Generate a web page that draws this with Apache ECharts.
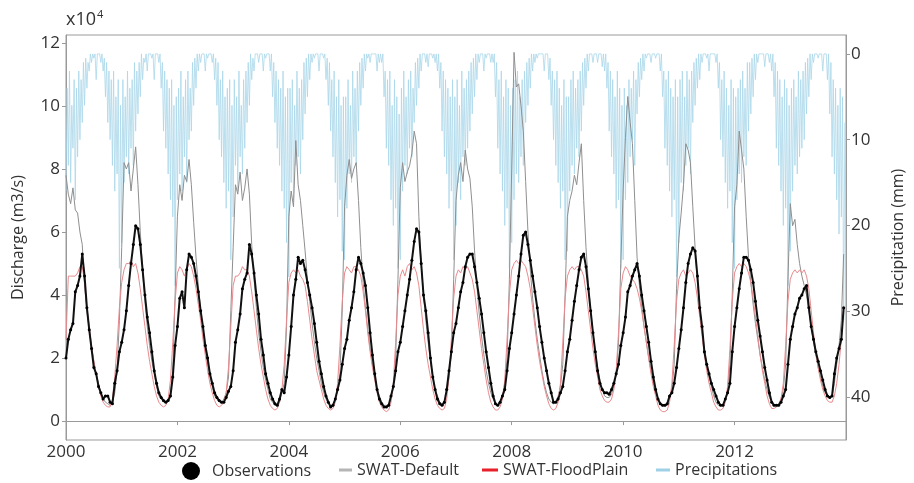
<!DOCTYPE html>
<html><head><meta charset="utf-8">
<script src="https://cdn.jsdelivr.net/npm/echarts@6/dist/echarts.min.js"></script>
<style>html,body{margin:0;padding:0;background:#fff}#c{width:914px;height:483px}</style>
</head><body><div id="c"></div>
<script>
// ---- data (discharge in 10^4 m3/s, semi-monthly; precipitation in mm, ~weekly) ----
const startYear = 2000;
const endYear = 2014;
const dischargeTicks = [0, 2, 4, 6, 8, 10, 12];
const precipTicks = [0, 10, 20, 30, 40];
const seriesNames = ['Observations', 'SWAT-Default', 'SWAT-FloodPlain', 'Precipitations'];

const observations = [
  2.0,2.6,2.9,3.1,4.1,4.3,4.6,5.3,4.6,3.6,2.9,2.3,1.7,1.5,1.1,0.9,0.7,0.8,0.8,0.6,0.55,1.2,1.6,2.2,
  2.5,2.9,3.5,4.3,5.0,5.6,6.2,6.1,5.6,4.8,4.0,3.3,2.8,2.2,1.6,1.2,0.9,0.75,0.65,0.6,0.65,0.8,1.4,2.4,
  3.0,3.9,4.1,3.6,4.8,5.3,5.2,5.0,4.6,4.1,3.5,3.0,2.4,2.0,1.5,1.2,0.9,0.75,0.65,0.6,0.6,0.75,0.95,1.1,
  1.6,2.5,2.9,3.4,4.2,4.5,4.7,5.6,5.3,4.7,4.0,3.4,2.6,2.1,1.5,1.2,0.9,0.7,0.55,0.5,0.7,1.0,0.9,1.4,
  2.1,3.0,4.0,4.5,5.2,5.0,5.1,4.8,4.4,4.0,3.6,3.1,2.5,1.9,1.5,1.1,0.8,0.6,0.45,0.5,0.7,1.0,1.3,1.8,
  2.3,2.6,3.2,3.6,4.1,4.8,5.2,5.0,4.7,4.3,3.6,2.8,2.1,1.5,1.0,0.7,0.55,0.45,0.45,0.5,0.8,1.1,1.6,2.2,
  2.5,3.0,3.5,4.0,4.5,5.1,5.7,6.1,6.0,5.0,4.0,3.5,2.8,2.0,1.4,1.0,0.7,0.55,0.5,0.6,1.0,1.6,2.2,2.8,
  3.1,3.6,4.1,4.4,4.9,5.2,5.3,5.3,4.9,4.4,3.9,3.4,2.8,2.2,1.7,1.2,0.8,0.55,0.5,0.6,0.8,1.0,1.6,2.3,
  2.8,3.4,4.0,4.6,5.3,5.9,6.0,5.6,5.1,4.6,4.1,3.6,3.0,2.5,2.0,1.6,1.2,0.9,0.6,0.6,0.7,0.9,1.1,1.6,
  2.2,2.6,3.2,3.8,4.3,4.8,5.2,5.3,4.9,4.2,3.5,2.8,2.2,1.6,1.2,1.0,0.9,0.9,0.85,1.0,1.2,1.5,1.8,2.4,
  2.8,3.3,4.1,4.3,4.6,4.8,5.0,4.6,4.0,3.5,3.0,2.5,1.9,1.4,1.0,0.7,0.55,0.5,0.5,0.55,0.8,0.9,1.2,1.7,
  2.3,2.9,3.6,4.4,5.0,5.3,5.5,5.4,4.6,3.6,3.0,2.2,1.8,1.5,1.2,1.0,0.8,0.6,0.5,0.5,0.7,0.9,1.2,2.2,
  3.0,3.6,4.2,4.7,5.2,5.2,5.1,4.8,4.4,3.8,3.2,2.7,2.2,1.7,1.3,0.9,0.6,0.5,0.5,0.5,0.6,0.8,1.0,1.8,
  2.6,3.0,3.4,3.6,3.9,4.0,4.2,4.3,3.6,3.0,2.6,2.2,1.9,1.6,1.3,1.0,0.8,0.75,0.8,1.5,2.0,2.3,2.6,3.6
];

const swatDefault = [
  7.8,7.2,6.9,7.4,6.7,6.6,6.0,5.6,4.3,3.5,2.9,2.3,1.9,1.5,1.2,0.9,0.7,0.6,0.55,0.5,0.6,0.9,1.6,3.2,
  5.5,8.2,8.0,8.2,7.3,8.0,8.7,7.5,6.0,4.8,3.8,3.0,2.4,1.9,1.5,1.1,0.8,0.7,0.6,0.6,0.7,0.9,1.6,4.0,
  6.5,7.5,7.0,7.8,7.6,8.3,7.5,6.3,5.2,4.3,3.5,2.9,2.3,1.8,1.4,1.1,0.8,0.7,0.6,0.6,0.7,0.9,1.4,3.5,
  5.5,7.5,7.2,7.9,7.0,7.4,8.0,7.2,5.6,4.5,3.6,2.8,2.2,1.7,1.3,1.0,0.7,0.6,0.5,0.5,0.6,0.9,1.2,3.0,
  6.5,7.3,6.8,8.9,7.5,7.0,6.2,5.4,4.5,3.8,3.1,2.5,2.0,1.6,1.2,0.9,0.7,0.55,0.5,0.5,0.7,1.0,1.5,3.5,
  6.8,7.8,8.3,7.7,8.0,8.2,7.0,5.5,4.4,3.6,2.9,2.3,1.8,1.4,1.0,0.8,0.6,0.5,0.5,0.5,0.7,1.1,2.0,4.5,
  7.4,8.2,7.6,7.9,8.1,8.5,9.2,8.8,6.5,5.0,4.0,3.2,2.5,1.9,1.4,1.0,0.8,0.6,0.55,0.6,0.9,1.4,2.2,4.5,
  7.0,7.8,8.2,7.6,8.6,8.0,7.7,6.8,5.4,4.3,3.4,2.7,2.1,1.6,1.2,0.9,0.7,0.55,0.5,0.6,0.8,1.2,2.0,4.5,
  8.0,11.7,10.6,10.7,10.0,9.2,7.6,6.0,4.8,3.9,3.2,2.6,2.1,1.6,1.2,0.9,0.7,0.6,0.55,0.6,0.8,1.1,1.8,4.0,
  6.5,7.0,7.3,7.8,7.5,8.2,8.8,7.0,5.5,4.4,3.5,2.8,2.2,1.7,1.3,1.0,0.8,0.75,0.75,0.85,1.1,1.5,2.5,5.0,
  7.3,9.0,10.3,9.5,8.8,7.0,5.2,4.3,3.6,3.0,2.5,2.0,1.6,1.2,0.9,0.7,0.55,0.5,0.5,0.5,0.7,1.0,1.8,4.2,
  5.8,6.6,7.5,8.8,8.6,8.2,6.8,5.5,4.4,3.6,2.9,2.3,1.8,1.4,1.1,0.8,0.6,0.5,0.5,0.5,0.7,1.0,1.8,4.0,
  6.8,7.5,9.2,8.6,8.0,6.5,5.2,4.4,3.7,3.1,2.6,2.1,1.7,1.3,1.0,0.75,0.6,0.5,0.5,0.55,0.7,1.0,1.8,4.5,
  6.9,6.2,6.4,5.6,5.0,4.6,4.3,4.0,3.5,3.0,2.5,2.1,1.7,1.4,1.1,0.9,0.8,0.75,0.8,1.2,1.8,2.4,3.2,5.3
];

const swatFloodPlain = [
  2.6,4.6,4.6,4.6,4.6,4.7,4.9,4.9,4.4,3.6,3.0,2.4,1.9,1.5,1.1,0.8,0.6,0.5,0.45,0.45,0.7,1.4,2.4,3.6,
  4.4,4.8,5.0,5.0,5.1,4.9,5.0,4.7,4.2,3.6,3.0,2.4,1.9,1.5,1.1,0.8,0.6,0.5,0.45,0.5,0.7,1.3,2.5,3.8,
  4.7,4.9,4.8,4.6,4.8,5.0,4.9,4.6,4.2,3.7,3.2,2.6,2.1,1.6,1.2,0.9,0.65,0.5,0.45,0.5,0.6,0.9,1.7,3.0,
  4.3,4.6,4.6,4.7,4.9,4.8,4.8,4.6,4.1,3.5,2.9,2.3,1.8,1.4,1.0,0.7,0.5,0.4,0.35,0.4,0.6,1.0,1.8,3.2,
  4.4,4.7,4.8,4.7,4.8,4.6,4.5,4.3,3.8,3.2,2.6,2.1,1.6,1.3,1.0,0.7,0.5,0.4,0.35,0.4,0.6,1.2,2.4,3.8,
  4.7,4.9,4.8,4.7,4.9,4.9,4.8,4.6,4.1,3.5,2.8,2.2,1.7,1.3,0.9,0.6,0.45,0.35,0.3,0.35,0.6,1.2,2.5,4.0,
  4.6,4.8,4.6,4.9,5.0,4.8,4.9,4.7,4.3,3.6,2.9,2.3,1.8,1.4,1.0,0.7,0.5,0.4,0.35,0.4,0.7,1.4,2.6,3.9,
  4.6,4.8,4.7,4.9,4.8,4.9,4.7,4.5,4.1,3.5,2.9,2.3,1.8,1.3,0.9,0.6,0.45,0.35,0.35,0.45,0.7,1.3,2.6,4.0,
  4.8,5.0,5.1,5.0,5.1,5.0,4.9,4.6,4.2,3.6,3.0,2.4,1.9,1.5,1.1,0.8,0.55,0.4,0.35,0.4,0.6,1.2,2.5,3.9,
  4.6,4.8,4.9,4.8,4.9,4.9,4.8,4.6,4.1,3.5,2.9,2.3,1.8,1.4,1.0,0.8,0.65,0.6,0.6,0.7,1.0,1.6,2.8,4.2,
  4.7,4.9,4.8,4.6,4.5,4.4,4.2,3.9,3.5,3.0,2.5,2.0,1.5,1.1,0.8,0.5,0.35,0.3,0.3,0.35,0.6,1.2,2.4,3.8,
  4.5,4.7,4.8,4.6,4.7,4.8,4.7,4.4,3.9,3.3,2.7,2.1,1.6,1.2,0.9,0.6,0.45,0.35,0.35,0.4,0.6,1.1,2.3,3.8,
  4.7,4.9,5.0,4.9,5.0,4.9,4.7,4.4,3.9,3.3,2.7,2.1,1.6,1.2,0.8,0.55,0.4,0.4,0.45,0.5,0.7,1.2,2.4,3.8,
  4.5,4.7,4.8,4.7,4.8,4.7,4.8,4.6,4.2,3.5,2.8,2.2,1.7,1.3,1.0,0.8,0.65,0.6,0.6,0.8,1.2,1.8,2.6,3.6
];

// 48 values per year (about weekly)
const precipitation = [
  16,4,13,2,15,6,11,3,17,4,12,2,10,3,8,1,6,0.5,4,1,2,0,1,0,0.5,0,3,0,0,0,1,0,2,0.5,5,1,8,2,10,3,13,2,16,5,14,3,25,6,
  22,3,15,5,12,2,14,4,11,3,13,1,9,2,7,1,5,0,3,0.5,1,0,2,0,0,0,0.5,0,3,0,0,0,1,0,4,1,9,2,11,3,14,4,17,3,19,6,27,5,
  17,4,14,2,16,5,12,3,15,2,10,4,9,1,6,0.5,4,0,2,0,1,0,0,0,2,0,0.5,0,0,0,1,0,3,0.5,6,1,10,3,12,2,15,5,18,4,16,3,24,6,
  19,3,13,5,16,2,12,6,14,3,11,2,8,1,6,0,3,0.5,2,0,0,0,1,0,0,0,2,0,0.5,0,0,0,2,0,5,1,8,2,11,3,13,4,16,2,18,5,22,4,
  26,4,15,3,17,6,13,2,12,4,14,3,10,1,7,0.5,5,0,3,0,1,0,0.5,0,0,0,2,0,0,0,0.5,0,3,0.5,6,1,9,3,12,2,15,5,19,3,17,6,23,5,
  24,5,18,3,14,6,15,2,12,4,13,2,9,1,6,0.5,4,0,2,0,0.5,0,1,0,0,0,0,0,2,0,1,0,1,0,5,2,11,3,13,2,17,6,20,3,18,5,25,7,
  24,4,16,2,13,5,14,3,11,2,12,4,8,1,6,0.5,4,0,2,0,0,0,1,0,1.5,0,0,0,0.5,0,1,0,2,0,4,1,9,2,12,3,14,4,18,5,16,3,24,5,
  20,3,15,6,17,2,12,4,13,3,11,2,9,1,7,0.5,5,0,3,0,1,0,0,0,2,0,0.5,0,0,0,1,0,1,0,5,1,11,3,14,2,16,5,20,3,18,4,25,6,
  22,4,17,3,14,2,15,5,12,3,13,2,8,1,6,0.5,4,0,2,0,1,0,0.5,0,0,0,0,0,2,0,0,0,3,0.5,6,2,10,3,13,2,15,4,18,6,16,3,24,5,
  23,5,16,3,13,2,14,4,11,3,12,2,9,1,6,0.5,4,0,2,0,0,0,1,0,0,0,1,0,0,0,1.5,0,2,0,4,1,9,2,12,3,14,5,18,2,17,4,25,6,
  24,4,17,6,15,3,12,4,10,2,13,3,7,1,5,0.5,3,0,2,0,0.5,0,0,0,1,0,0,0,0.5,0,0,0,2,0,5,2,11,3,13,2,16,4,19,5,17,3,26,5,
  22,3,15,2,16,5,13,2,11,3,14,2,8,1,6,0.5,4,0,3,0,1,0,0,0,0.5,0,2,0,0,0,0,0,1,0,4,1,10,3,12,2,15,4,18,6,16,3,22,4,
  25,5,17,4,14,3,15,2,12,4,13,1,9,1,7,0.5,5,0,3,0,1,0,0,0,0,0,1.5,0,0,0,1,0,2,0,5,1,11,2,13,3,16,5,20,3,18,4,27,6,
  23,4,16,3,13,5,14,2,12,3,11,2,10,1,7,0.5,5,0,3,0,1,0,0,0,0.5,0,0,0,2,0,0,0,3,0,7,1,12,3,14,4,17,6,21,4,19,5,31,8
];

// ---- build [x, y] pairs on fractional-year axis ----
function toPairs(values, perYear) {
  return values.map((v, i) => [startYear + i / perYear, v]);
}
const FONT = 'Open Sans';
const TXT = '#333';

const chart = echarts.init(document.getElementById('c'), null, {renderer: 'canvas'});
chart.setOption({
  animation: false,
  backgroundColor: '#fff',
  textStyle: {fontFamily: FONT},
  title: {
    text: '{a|x10}{b|4}',
    left: 61, top: 4,
    textStyle: {fontWeight: 'normal', rich: {
      a: {fontSize: 18, color: TXT, fontFamily: FONT, fontWeight: 'normal'},
      b: {fontSize: 11, color: TXT, fontFamily: FONT, fontWeight: 'normal', verticalAlign: 'top', padding: [0, 0, 10, 1]}
    }}
  },
  grid: {left: 66, right: 53, top: 35, bottom: 43, show: true, borderColor: '#9a9a9a', borderWidth: 1},
  legend: [
    {data: [{name: seriesNames[0], icon: 'circle'}], left: 177, top: 457, itemWidth: 18, itemHeight: 18,
     textStyle: {fontSize: 16, color: TXT, padding: [0, 0, 0, 7]}},
    {data: [{name: seriesNames[1], icon: 'rect'}], left: 334, top: 457, itemWidth: 13, itemHeight: 3,
     textStyle: {fontSize: 16, color: TXT}},
    {data: [{name: seriesNames[2], icon: 'rect'}], left: 477, top: 457, itemWidth: 16, itemHeight: 3,
     textStyle: {fontSize: 16, color: TXT}},
    {data: [{name: seriesNames[3], icon: 'rect'}], left: 651, top: 457, itemWidth: 14, itemHeight: 3,
     textStyle: {fontSize: 16, color: TXT}}
  ],
  xAxis: {
    type: 'value', min: startYear, max: endYear, interval: 2,
    axisLine: {show: true, lineStyle: {color: '#9a9a9a'}},
    axisTick: {show: true, length: 4, lineStyle: {color: '#9a9a9a'}},
    axisLabel: {fontSize: 17, color: TXT, margin: 4,
      formatter: v => (v === endYear ? '' : String(v))},
    splitLine: {show: false}
  },
  yAxis: [
    {
      type: 'value', min: -0.6, max: 12.25, position: 'left',
      name: 'Discharge (m3/s)', nameLocation: 'middle', nameRotate: 90, nameGap: 40,
      nameTextStyle: {fontSize: 16, color: TXT},
      axisLine: {show: true, lineStyle: {color: '#9a9a9a'}},
      axisTick: {show: true, length: 4, customValues: dischargeTicks, lineStyle: {color: '#9a9a9a'}},
      axisLabel: {fontSize: 17, color: TXT, margin: 6, customValues: dischargeTicks},
      splitLine: {show: false}
    },
    {
      type: 'value', min: -2.2, max: 45, inverse: true, position: 'right',
      name: 'Precipitation (mm)', nameLocation: 'middle', nameRotate: 90, nameGap: 44,
      nameTextStyle: {fontSize: 16, color: TXT},
      axisLine: {show: true, lineStyle: {color: '#9a9a9a'}},
      axisTick: {show: true, length: 4, customValues: precipTicks, lineStyle: {color: '#9a9a9a'}},
      axisLabel: {fontSize: 17, color: TXT, margin: 5, customValues: precipTicks},
      splitLine: {show: false}
    }
  ],
  series: [
    {
      name: seriesNames[3], type: 'line', yAxisIndex: 1, data: toPairs(precipitation, 48),
      showSymbol: false, symbol: 'none', color: '#9fd1e6',
      lineStyle: {width: 0.8, color: '#a9d7ea'}, z: 1
    },
    {
      name: seriesNames[1], type: 'line', data: toPairs(swatDefault, 24),
      showSymbol: false, symbol: 'none', color: '#b5b5b5',
      lineStyle: {width: 1, color: '#8f8f8f'}, z: 2
    },
    {
      name: seriesNames[2], type: 'line', data: toPairs(swatFloodPlain, 24),
      showSymbol: false, symbol: 'none', color: '#e8202a',
      lineStyle: {width: 1, color: '#e98a8e'}, z: 3
    },
    {
      name: seriesNames[0], type: 'line', data: toPairs(observations, 24),
      symbol: 'circle', symbolSize: 3, showAllSymbol: true, color: '#000',
      itemStyle: {color: '#000'},
      lineStyle: {width: 2, color: '#111'}, z: 4
    }
  ]
});
</script>
</body></html>
